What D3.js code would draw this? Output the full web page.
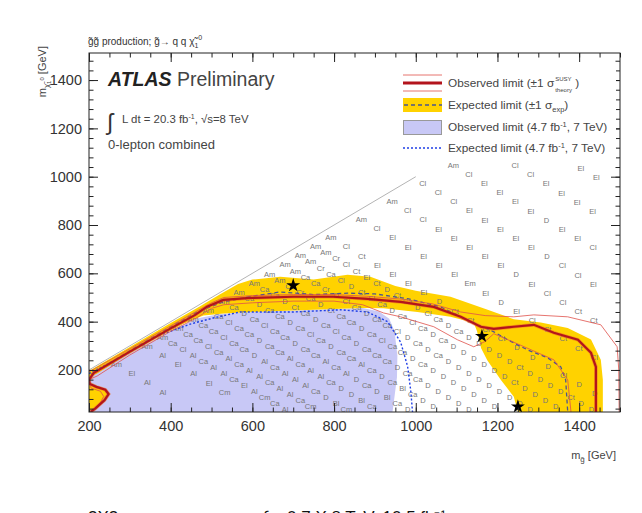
<!DOCTYPE html>
<html>
<head>
<meta charset="utf-8">
<script src="https://cdn.jsdelivr.net/npm/d3@7"></script>
<style>
  html, body { margin: 0; padding: 0; background: #fff; }
  svg { display: block; font-family: "Liberation Sans", Arial, Helvetica, sans-serif; }
</style>
</head>
<body>
<svg id="chart" width="642" height="513"></svg>
<script>
// ---- data (m_gluino, m_neutralino) in GeV ----
const xTicks = [200, 400, 600, 800, 1000, 1200, 1400];
const yTicks = [200, 400, 600, 800, 1000, 1200, 1400];

// observed 7 TeV limit (filled)
const obs7TeV = [[200,26],[200,180],[240,215],[300,270],[360,325],[420,380],[470,415],[520,432],[600,440],[700,446],[800,452],[870,456],[910,442],[935,412],[948,360],[955,260],[954,170],[948,90],[943,26]];
// expected 7 TeV limit (dotted)
const exp7TeV = [[200,185],[283,258],[367,340],[448,390],[504,415],[570,440],[700,440],[816,449],[882,440],[931,400],[963,315],[980,215],[988,110],[992,26]];
// expected +-1 sigma band
const expBand = [[200,170],[200,196],[300,295],[400,394],[470,462],[520,512],[565,556],[600,574],[668,586],[750,574],[833,594],[889,586],[950,548],[1000,528],[1085,503],[1176,449],[1240,410],[1306,396],[1372,374],[1429,326],[1453,242],[1458,159],[1458,26],
  [1250,26],[1240,89],[1208,159],[1175,240],[1160,290],[1150,360],[1142,395],[1085,420],[1004,440],[921,455],[870,456],[800,452],[700,446],[600,440],[530,434],[480,425],[430,390],[350,318],[280,250],[220,185]];
const expBandLeft = [[200,30],[212,40],[232,70],[246,100],[240,120],[220,133],[200,138]];
const expLine = [[205,182],[300,280],[400,378],[470,444],[529,482],[600,505],[668,523],[750,512],[833,518],[900,515],[980,495],[1061,461],[1110,420],[1152,387],[1191,358],[1225,325],[1274,283],[1323,250],[1355,213],[1367,159],[1372,26]];
const obsLine = [[204,26],[215,40],[238,75],[248,100],[240,118],[218,130],[202,142],[200,160],[212,188],[300,276],[400,372],[460,428],[489,462],[529,490],[595,498],[700,503],[798,503],[882,494],[963,482],[1044,461],[1110,420],[1159,379],[1191,370],[1240,379],[1289,387],[1338,354],[1397,325],[1429,271],[1441,213],[1441,26]];
const obsUp = [[200,192],[300,288],[400,383],[460,440],[500,478],[530,500],[600,508],[700,512],[800,512],[880,505],[960,494],[1040,474],[1110,440],[1170,425],[1240,420],[1289,428],[1372,420],[1453,387],[1493,296],[1497,200],[1498,26]];
const obsDown = [[205,26],[226,60],[236,90],[228,112],[205,125],[200,160],[220,175],[300,262],[400,360],[460,412],[500,455],[530,470],[600,478],[700,485],[800,485],[870,470],[921,436],[963,420],[1044,379],[1102,325],[1142,296],[1170,318],[1191,350],[1260,300],[1338,242],[1372,159],[1380,26]];
const kinLimit = [[200,200],[1000,1000]];
const benchmarks = [[700,550],[1162,340],[1250,48]];

// signal-region labels on the grid, one row per m_g + m_chi
const sparseStep = 38;
const gridSparse = [
  {s: 2440, g0: 1404, labels: "El El"},
  {s: 2290, g0: 1243, labels: "Cl Cl El El El El"},
  {s: 2140, g0: 1092, labels: "Am Cl El El El El D El El Cl"},
  {s: 1990, g0: 1017, labels: "Cl Cl Cl El El El El El D Cl Cl El"},
  {s: 1840, g0: 942,  labels: "Am Cl Cl El El El El El D El Cl Cl Ct Ct"},
  {s: 1690, g0: 867,  labels: "Am Cl El El El El El Em El D El Cl Ct Ct Ct Cl"},
  {s: 1540, g0: 792,  labels: "Am Cl Ct El El El El D Ct Ct Cl Ct D D D Cl D D"},
  {s: 640,  g0: 342,  labels: "Am Al El Al El Cm"},
  {s: 490,  g0: 267,  labels: "Am El Al Al"}
];
const denseStep = 25;
const gridDense = [
  {s: 715,  g0: 380,   labels: "Am Ca Cl Al Ca Al Al Ca El Al Cm Ca Al"},
  {s: 790,  g0: 417.5, labels: "Am Ca Ca Cl Ca Al Ca Al Al Ca Al Al Ca Cm"},
  {s: 865,  g0: 455,   labels: "Am Ca Ca Cl Ca Ca D Al Ca Al Al Al Ca D Bl Cm"},
  {s: 940,  g0: 492.5, labels: "Am Ca Cl Ca Ca D Ca Ca Al Ca Al Al Ca D D Bl Ca"},
  {s: 1015, g0: 530,   labels: "Am Ca D Ca Cl Ca Ca D Ca Ca Al Ca Al D Ca D Bl Ca D"},
  {s: 1090, g0: 567.5, labels: "Am Ca D Ca Ca D Ca Cl Ca D Ca Ca Al Ca D Ca Bl Ca D D"},
  {s: 1165, g0: 605,   labels: "Am Ca Ca D Ct Ca D Ca Cl Ca D Ca Ca Ca D Ca Ca D D D D D"},
  {s: 1240, g0: 642.5, labels: "Am Am Ca Cr Ca D Ct Ca Ca D Ca Cl Ca Ca D Ca D D D D D D D"},
  {s: 1315, g0: 680,   labels: "Am Am Ca Ca Cr D Ct Ca D Ca Ca Cl D Ca D Ca D D D D D D D D D"},
  {s: 1390, g0: 717.5, labels: "Am Am Cr Ca Cl D Ct El Ca D Ca Cl Ca D Ca D D D D D D Ct D D D D"},
  {s: 1465, g0: 755,   labels: "Am Am Cr Cl Ct El Ct D Ct Ca D Cl Ca D Ca D D D D D Ct D D D D Ct D D"}
];

// ---- scales ----
const svg = d3.select('#chart');
const x = d3.scaleLinear().domain([200, 1500]).range([89, 620]);
const y = d3.scaleLinear().domain([26, 1512]).range([412, 53]);

const line = d3.line().x(d => x(d[0])).y(d => y(d[1]));
const area = d3.line().x(d => x(d[0])).y(d => y(d[1])).curve(d3.curveLinearClosed);

svg.append('clipPath').attr('id', 'clip')
  .append('rect').attr('x', 89).attr('y', 53).attr('width', 531).attr('height', 359);

const plot = svg.append('g').attr('clip-path', 'url(#clip)');

// bands
plot.append('path').datum(obs7TeV).attr('d', area).attr('fill', '#c8c8f6');
plot.append('path').datum(expBand).attr('d', area).attr('fill', '#ffd200');
plot.append('path').datum(expBandLeft).attr('d', area).attr('fill', '#ffd200');

// grid labels
const gridPoints = [];
gridSparse.forEach(r => r.labels.split(' ').forEach((lab, i) => {
  const g = r.g0 + i * sparseStep;
  gridPoints.push({g, c: r.s - g, lab});
}));
gridDense.forEach(r => r.labels.split(' ').forEach((lab, i) => {
  const g = r.g0 + i * denseStep;
  gridPoints.push({g, c: r.s - g, lab});
}));

plot.append('g')
  .selectAll('text')
  .data(gridPoints)
  .join('text')
  .attr('x', d => x(d.g))
  .attr('y', d => y(d.c))
  .attr('dy', '0.35em')
  .attr('text-anchor', 'middle')
  .attr('font-size', 7.5)
  .attr('fill', '#777')
  .text(d => d.lab);

// limit lines
plot.append('path').datum(exp7TeV).attr('d', line)
  .attr('fill', 'none').attr('stroke', '#1f3fe6').attr('stroke-width', 1.4).attr('stroke-dasharray', '2,2');
plot.append('path').datum(expLine).attr('d', line)
  .attr('fill', 'none').attr('stroke', '#4a5590').attr('stroke-width', 1.3).attr('stroke-dasharray', '4,3');
plot.append('path').datum(obsUp).attr('d', line)
  .attr('fill', 'none').attr('stroke', '#e0504a').attr('stroke-width', 0.8);
plot.append('path').datum(obsDown).attr('d', line)
  .attr('fill', 'none').attr('stroke', '#e0504a').attr('stroke-width', 0.8);
plot.append('path').datum(obsLine).attr('d', line)
  .attr('fill', 'none').attr('stroke', '#f07020').attr('stroke-width', 3.6).attr('stroke-opacity', 0.6);
plot.append('path').datum(obsLine).attr('d', line)
  .attr('fill', 'none').attr('stroke', '#b3141c').attr('stroke-width', 2.2);
plot.append('path').datum(kinLimit).attr('d', line)
  .attr('fill', 'none').attr('stroke', '#b4b4b4').attr('stroke-width', 1);

// benchmark stars
plot.append('g').selectAll('path')
  .data(benchmarks)
  .join('path')
  .attr('transform', d => `translate(${x(d[0])},${y(d[1])})`)
  .attr('d', d3.symbol(d3.symbolStar).size(60))
  .attr('fill', '#000');

// ---- axes ----
const fontFam = '"Liberation Sans", Arial, Helvetica, sans-serif';
const xMinor = d3.range(200, 1501, 50);
const yMinor = d3.range(40, 1512, 40);

function styleAxis(g) {
  g.select('.domain').remove();
  g.attr('font-family', fontFam).attr('font-size', 14.5);
  g.selectAll('text').attr('fill', '#333');
  g.selectAll('line').attr('stroke', '#222');
}

svg.append('g').attr('transform', 'translate(0,412)')
  .call(d3.axisBottom(x).tickValues(xTicks).tickSizeInner(-9).tickSizeOuter(0).tickPadding(9).tickFormat(d3.format('d')))
  .call(styleAxis);
svg.append('g').attr('transform', 'translate(0,412)')
  .call(d3.axisBottom(x).tickValues(xMinor).tickSizeInner(-4.5).tickSizeOuter(0).tickFormat(''))
  .call(styleAxis);
svg.append('g').attr('transform', 'translate(0,53)')
  .call(d3.axisTop(x).tickValues(xTicks).tickSizeInner(-9).tickSizeOuter(0).tickFormat(''))
  .call(styleAxis);
svg.append('g').attr('transform', 'translate(0,53)')
  .call(d3.axisTop(x).tickValues(xMinor).tickSizeInner(-4.5).tickSizeOuter(0).tickFormat(''))
  .call(styleAxis);

svg.append('g').attr('transform', 'translate(89,0)')
  .call(d3.axisLeft(y).tickValues(yTicks).tickSizeInner(-9).tickSizeOuter(0).tickPadding(7).tickFormat(d3.format('d')))
  .call(styleAxis);
svg.append('g').attr('transform', 'translate(89,0)')
  .call(d3.axisLeft(y).tickValues(yMinor).tickSizeInner(-4.5).tickSizeOuter(0).tickFormat(''))
  .call(styleAxis);
svg.append('g').attr('transform', 'translate(620,0)')
  .call(d3.axisRight(y).tickValues(yTicks).tickSizeInner(-9).tickSizeOuter(0).tickFormat(''))
  .call(styleAxis);
svg.append('g').attr('transform', 'translate(620,0)')
  .call(d3.axisRight(y).tickValues(yMinor).tickSizeInner(-4.5).tickSizeOuter(0).tickFormat(''))
  .call(styleAxis);

svg.append('rect').attr('x', 89).attr('y', 53).attr('width', 531).attr('height', 359)
  .attr('fill', 'none').attr('stroke', '#222').attr('stroke-width', 1);

// axis titles
const xt = svg.append('text').attr('x', 616).attr('y', 459).attr('text-anchor', 'end')
  .attr('font-size', 11).attr('fill', '#444');
xt.append('tspan').text('m');
xt.append('tspan').attr('dy', 3).attr('font-size', 8).text('g\u0303');
xt.append('tspan').attr('dy', -3).text(' [GeV]');

const yt = svg.append('text').attr('transform', 'translate(46,46) rotate(-90)')
  .attr('text-anchor', 'end').attr('font-size', 11).attr('fill', '#444');
yt.append('tspan').text('m');
yt.append('tspan').attr('dy', 3).attr('font-size', 8).text('\u03c7\u0303');
yt.append('tspan').attr('dy', 2).attr('font-size', 6).text('1');
yt.append('tspan').attr('dy', -7).attr('font-size', 6).text('0');
yt.append('tspan').attr('dy', 2).text(' [GeV]');

// title above frame
const tt = svg.append('text').attr('x', 88).attr('y', 45).attr('font-size', 10).attr('fill', '#333');
tt.append('tspan').text('g\u0303g\u0303 production; g\u0303\u2192 q q \u03c7\u0303');
tt.append('tspan').attr('dy', 3).attr('font-size', 7).text('1');
tt.append('tspan').attr('dy', -8).attr('font-size', 7).text('0');

// ATLAS label
const at = svg.append('text').attr('x', 108).attr('y', 86).attr('font-size', 19.5).attr('fill', '#222');
at.append('tspan').attr('font-weight', 'bold').attr('font-style', 'italic').text('ATLAS');
at.append('tspan').attr('fill', '#444').text(' Preliminary');

svg.append('text').attr('x', 107).attr('y', 130).attr('font-size', 23).attr('fill', '#333').text('\u222b');
const lt = svg.append('text').attr('x', 122).attr('y', 123).attr('font-size', 11.4).attr('fill', '#444');
lt.append('tspan').text('L dt = 20.3 fb');
lt.append('tspan').attr('dy', -4).attr('font-size', 7).text('-1');
lt.append('tspan').attr('dy', 4).text(',  \u221as=8 TeV');

svg.append('text').attr('x', 108).attr('y', 149).attr('font-size', 13).attr('fill', '#444').text('0-lepton combined');

// ---- legend ----
const lg = svg.append('g');
lg.append('rect').attr('x', 398).attr('y', 68).attr('width', 218).attr('height', 92).attr('fill', '#fff');

lg.append('line').attr('x1', 403).attr('x2', 442).attr('y1', 75).attr('y2', 75).attr('stroke', '#e0504a').attr('stroke-width', 0.8);
lg.append('line').attr('x1', 403).attr('x2', 442).attr('y1', 91).attr('y2', 91).attr('stroke', '#e0504a').attr('stroke-width', 0.8);
lg.append('line').attr('x1', 403).attr('x2', 442).attr('y1', 83).attr('y2', 83).attr('stroke', '#b3141c').attr('stroke-width', 3);
lg.append('rect').attr('x', 403).attr('y', 98).attr('width', 39).attr('height', 14).attr('fill', '#ffd200');
lg.append('line').attr('x1', 404).attr('x2', 442).attr('y1', 105).attr('y2', 105).attr('stroke', '#4a5590').attr('stroke-width', 1.4).attr('stroke-dasharray', '4,3');
lg.append('rect').attr('x', 403.5).attr('y', 120.5).attr('width', 38).attr('height', 14).attr('fill', '#c8c8f6').attr('stroke', '#999');
lg.append('line').attr('x1', 403).attr('x2', 442).attr('y1', 148).attr('y2', 148).attr('stroke', '#1f3fe6').attr('stroke-width', 1.4).attr('stroke-dasharray', '2,2');

function legendText(yy, parts) {
  const t = lg.append('text').attr('x', 448).attr('y', yy).attr('font-size', 11.8).attr('fill', '#444');
  parts.forEach(p => {
    const s = t.append('tspan').text(p.t);
    if (p.dy) s.attr('dy', p.dy);
    if (p.fs) s.attr('font-size', p.fs);
  });
  return t;
}
const l1 = legendText(87, [{t: 'Observed limit (\u00b11 \u03c3'}]);
const l1w = l1.node().getComputedTextLength();
lg.append('text').attr('x', 449 + l1w).attr('y', 81).attr('font-size', 6).attr('fill', '#444').text('SUSY');
lg.append('text').attr('x', 449 + l1w).attr('y', 92).attr('font-size', 6).attr('fill', '#444').text('theory');
lg.append('text').attr('x', 469 + l1w).attr('y', 87).attr('font-size', 11.8).attr('fill', '#444').text(')');

legendText(109, [{t: 'Expected limit (\u00b11 \u03c3'}, {t: 'exp', dy: 3, fs: 7.5}, {t: ')', dy: -3}]);
legendText(131, [{t: 'Observed limit (4.7 fb'}, {t: '-1', dy: -4, fs: 7.5}, {t: ', 7 TeV)', dy: 4}]);
legendText(152, [{t: 'Expected limit (4.7 fb'}, {t: '-1', dy: -4, fs: 7.5}, {t: ', 7 TeV)', dy: 4}]);

// cut-off caption at the very bottom
svg.append('text').attr('x', 88).attr('y', 523).attr('font-size', 17).attr('fill', '#111').text('3X3');
svg.append('text').attr('x', 263).attr('y', 523).attr('font-size', 17).attr('fill', '#111').text('\u222b = 0.7 X 8 TeV, 10.5 fb\u207b\u00b9');
</script>
</body>
</html>
